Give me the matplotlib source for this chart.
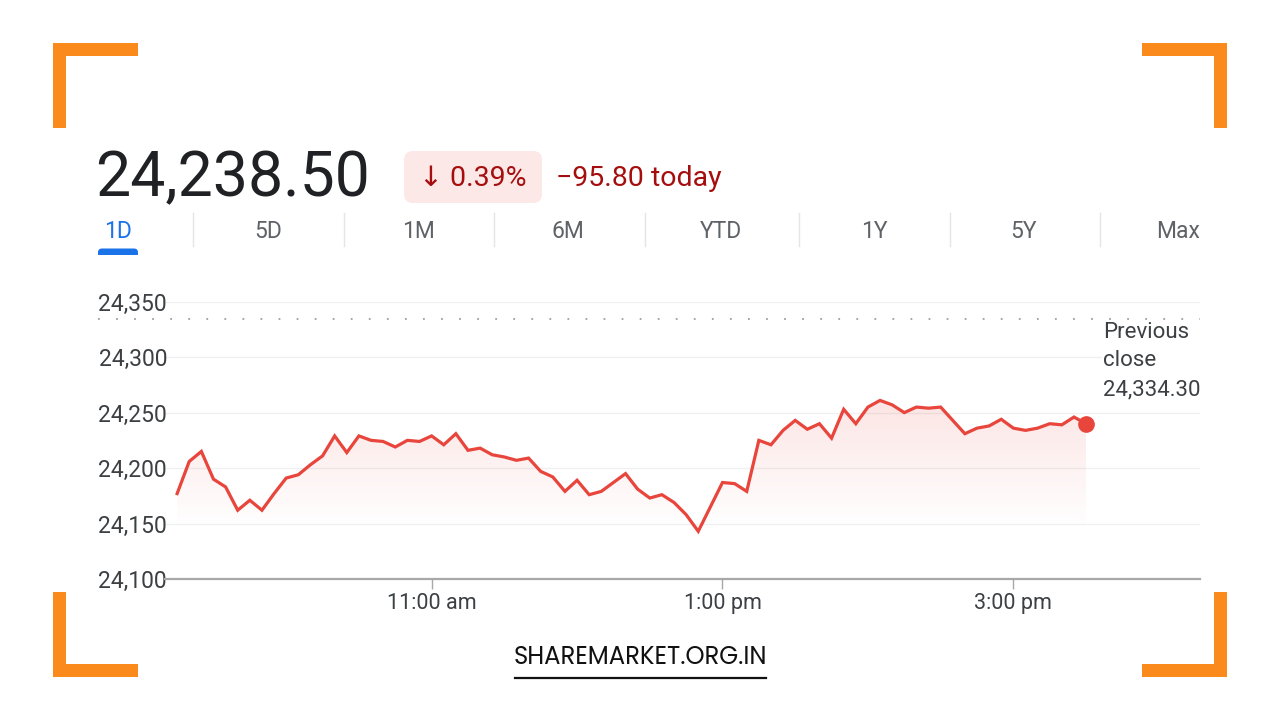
import numpy as np
import matplotlib
matplotlib.use("Agg")
import matplotlib.pyplot as plt
from matplotlib.patches import FancyBboxPatch, Rectangle
from matplotlib.colors import to_rgb

# ---------------- data ----------------
start_minute = 9 * 60 + 15          # 9:15 am, 5-minute samples
step_minutes = 5
prices = [24177, 24206, 24215, 24190, 24183, 24162, 24171, 24162, 24177, 24191,
          24194, 24203, 24211, 24229, 24214, 24229, 24225, 24224, 24219, 24225,
          24224, 24229, 24221, 24231, 24216, 24218, 24212, 24210, 24207, 24209,
          24197, 24192, 24179, 24189, 24176, 24179, 24187, 24195, 24181, 24173,
          24176, 24169, 24158, 24143, 24165, 24187, 24186, 24179, 24225, 24221,
          24234, 24243, 24235, 24240, 24227, 24253, 24240, 24255, 24261, 24257,
          24250, 24255, 24254, 24255, 24243, 24231, 24236, 24238, 24244, 24236,
          24234, 24236, 24240, 24239, 24246, 24240]
previous_close = 24334.30
current_price = "24,238.50"
change_pct = "\u2193 0.39%"
change_abs = "\u221295.80 today"
y_ticks = [24100, 24150, 24200, 24250, 24300, 24350]
y_tick_labels = ["24,100", "24,150", "24,200", "24,250", "24,300", "24,350"]
x_ticks = [11 * 60, 13 * 60, 15 * 60]
x_tick_labels = ["11:00 am", "1:00 pm", "3:00 pm"]
tabs = ["1D", "5D", "1M", "6M", "YTD", "1Y", "5Y", "Max"]
footer = "SHAREMARKET.ORG.IN"

minutes = start_minute + step_minutes * np.arange(len(prices))

# ---------------- style ----------------
FONT = ["Roboto", "DejaVu Sans"]
plt.rcParams["font.family"] = FONT
RED = "#e8453c"
DARK_RED = "#a50e0e"
GREY_TXT = "#3c4043"
ORANGE = "#fb8a1d"
W, H = 1280, 720

fig = plt.figure(figsize=(12.8, 7.2), dpi=100)
fig.patch.set_facecolor("white")

# overlay axes in pixel coordinates for page decoration
ov = fig.add_axes([0, 0, 1, 1], zorder=0)
ov.set_xlim(0, W)
ov.set_ylim(H, 0)
ov.axis("off")

# orange corner brackets
t = 13
L = 85
for (cx, cy, sx, sy) in [(53, 43, 1, 1), (1227, 43, -1, 1), (53, 677, 1, -1), (1227, 677, -1, -1)]:
    ov.add_patch(Rectangle((cx, cy), sx * L, sy * t, color=ORANGE, lw=0))
    ov.add_patch(Rectangle((cx, cy), sx * t, sy * L, color=ORANGE, lw=0))

# header
ov.text(95, 179, current_price, fontsize=45, color="#202124", va="center", ha="left")
ov.add_patch(FancyBboxPatch((404, 151), 138, 52,
                            boxstyle="round,pad=0,rounding_size=9",
                            facecolor="#fce8e6", edgecolor="none"))
ov.text(473, 178, change_pct, fontsize=20.5, color=DARK_RED, va="center", ha="center",
        family=["Roboto", "DejaVu Sans"])
ov.text(556, 178, change_abs, fontsize=20.5, color=DARK_RED, va="center", ha="left")

# tabs
tab_x = [118, 268, 418, 568, 721, 874, 1024, 1178]
sep_x = [193, 344, 494, 645, 799, 950, 1100]
for i, (lab, x) in enumerate(zip(tabs, tab_x)):
    ov.text(x, 232, lab, fontsize=16.5, color="#1a73e8" if i == 0 else "#5f6368",
            va="center", ha="center")
for x in sep_x:
    ov.plot([x, x], [213, 246], color="#e3e5e8", lw=1)
ov.add_patch(FancyBboxPatch((98, 248.5), 40, 9,
                            boxstyle="round,pad=0,rounding_size=4",
                            facecolor="#1a73e8", edgecolor="none"))
ov.add_patch(Rectangle((96, 255), 44, 6, color="white", lw=0))

# footer
ov.text(640, 658, footer, fontsize=17.5, color="#111111", va="center", ha="center",
        family=["Poppins", "Inter", "DejaVu Sans"])
ov.plot([515, 766], [678, 678], color="#111111", lw=1.6)

# ---------------- chart axes ----------------
ax_left, ax_right, ax_bottom, ax_top = 165, 1200, 579, 301.7
ax = fig.add_axes([ax_left / W, 1 - ax_bottom / H,
                   (ax_right - ax_left) / W, (ax_bottom - ax_top) / H], zorder=2)
ax.patch.set_alpha(0)
ax.set_xlim(550, 977)
ax.set_ylim(24100, 24350)

for s in ["top", "right", "left"]:
    ax.spines[s].set_visible(False)
ax.spines["bottom"].set_color("#a8a8a8")
ax.spines["bottom"].set_linewidth(1.6)

ax.set_yticks(y_ticks)
ax.set_yticklabels(y_tick_labels, fontsize=16.5, color=GREY_TXT)
ax.tick_params(axis="y", length=0, pad=-1.5)
ax.set_xticks(x_ticks)
ax.set_xticklabels(x_tick_labels, fontsize=15.5, color=GREY_TXT)
ax.tick_params(axis="x", length=7, width=1, color="#a8a8a8", pad=3)
ax.yaxis.grid(True, color="#f0f0f0", lw=1)
ax.set_axisbelow(True)

# previous close dotted line (extends left to the labels)
ax.axhline(previous_close, xmin=-0.065, xmax=1.0, color="#9aa0a6",
           lw=1.3, ls=(0, (1, 9)), clip_on=False, zorder=1)

# gradient fill under the line
poly = ax.fill_between(minutes, prices, 24100, facecolor="none", edgecolor="none")
r, g, b = to_rgb(RED)
ny = 256
grad = np.zeros((ny, 2, 4))
grad[..., 0], grad[..., 1], grad[..., 2] = r, g, b
alpha = np.linspace(0.14, 0.0, ny)
grad[..., 3] = alpha[:, None]
top_v = max(prices)
im = ax.imshow(grad, aspect="auto", origin="upper",
               extent=[minutes[0], minutes[-1], 24145, top_v], zorder=2,
               interpolation="bilinear")
clip_path = poly.get_paths()[0]
im.set_clip_path(clip_path, transform=ax.transData)

ax.plot(minutes, prices, color=RED, lw=2.3, zorder=3, solid_joinstyle="miter")
ax.plot(minutes[-1], prices[-1], "o", color=RED, ms=11, zorder=4)

# previous close annotation
ax.text(1103 / W, 1 - 361 / H, "Previous\nclose\n24,334.30", transform=fig.transFigure,
        fontsize=16, color=GREY_TXT, va="center", ha="left", linespacing=1.5,
        bbox=dict(facecolor="white", edgecolor="none", pad=1), zorder=5)

fig.savefig("out.png", dpi=100, facecolor="white")
